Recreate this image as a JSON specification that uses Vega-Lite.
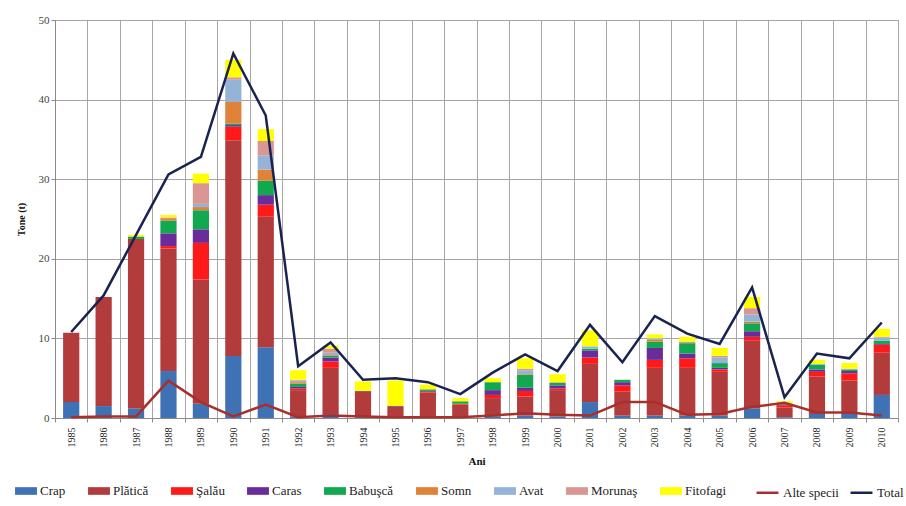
{
  "$schema": "https://vega.github.io/schema/vega-lite/v6.json",
  "autosize": {"type": "none"},
  "width": 843,
  "height": 398,
  "padding": {"left": 55, "top": 20, "right": 8, "bottom": 88},
  "background": "white",
  "config": {
    "font": "Liberation Serif",
    "view": {"stroke": "#9a9a9a", "strokeWidth": 1},
    "axis": {"labelFont": "Liberation Serif", "titleFont": "Liberation Serif", "labelColor": "#222", "titleColor": "#111"},
    "legend": {"labelFont": "Liberation Serif", "labelFontSize": 13, "labelColor": "#222"}
  },
  "datasets": {
    "bars": [
      {"year": "1985", "species": "Crap", "value": 2.0}, {"year": "1985", "species": "Plătică", "value": 8.7},
      {"year": "1986", "species": "Crap", "value": 1.5}, {"year": "1986", "species": "Plătică", "value": 13.7},
      {"year": "1987", "species": "Crap", "value": 1.2}, {"year": "1987", "species": "Plătică", "value": 21.3}, {"year": "1987", "species": "Babuşcă", "value": 0.3}, {"year": "1987", "species": "Fitofagi", "value": 0.2},
      {"year": "1988", "species": "Crap", "value": 5.9}, {"year": "1988", "species": "Plătică", "value": 15.4}, {"year": "1988", "species": "Şalău", "value": 0.3}, {"year": "1988", "species": "Caras", "value": 1.6}, {"year": "1988", "species": "Babuşcă", "value": 1.6}, {"year": "1988", "species": "Somn", "value": 0.2}, {"year": "1988", "species": "Morunaş", "value": 0.2}, {"year": "1988", "species": "Fitofagi", "value": 0.3},
      {"year": "1989", "species": "Crap", "value": 1.8}, {"year": "1989", "species": "Plătică", "value": 15.6}, {"year": "1989", "species": "Şalău", "value": 4.6}, {"year": "1989", "species": "Caras", "value": 1.7}, {"year": "1989", "species": "Babuşcă", "value": 2.4}, {"year": "1989", "species": "Somn", "value": 0.4}, {"year": "1989", "species": "Avat", "value": 0.4}, {"year": "1989", "species": "Morunaş", "value": 2.6}, {"year": "1989", "species": "Fitofagi", "value": 1.2},
      {"year": "1990", "species": "Crap", "value": 7.8}, {"year": "1990", "species": "Plătică", "value": 27.1}, {"year": "1990", "species": "Şalău", "value": 1.7}, {"year": "1990", "species": "Caras", "value": 0.2}, {"year": "1990", "species": "Babuşcă", "value": 0.2}, {"year": "1990", "species": "Somn", "value": 2.7}, {"year": "1990", "species": "Avat", "value": 2.8}, {"year": "1990", "species": "Morunaş", "value": 0.3}, {"year": "1990", "species": "Fitofagi", "value": 2.2},
      {"year": "1991", "species": "Crap", "value": 8.9}, {"year": "1991", "species": "Plătică", "value": 16.4}, {"year": "1991", "species": "Şalău", "value": 1.5}, {"year": "1991", "species": "Caras", "value": 1.2}, {"year": "1991", "species": "Babuşcă", "value": 1.8}, {"year": "1991", "species": "Somn", "value": 1.4}, {"year": "1991", "species": "Avat", "value": 1.8}, {"year": "1991", "species": "Morunaş", "value": 1.8}, {"year": "1991", "species": "Fitofagi", "value": 1.5},
      {"year": "1992", "species": "Crap", "value": 0.2}, {"year": "1992", "species": "Plătică", "value": 3.3}, {"year": "1992", "species": "Şalău", "value": 0.2}, {"year": "1992", "species": "Caras", "value": 0.2}, {"year": "1992", "species": "Babuşcă", "value": 0.4}, {"year": "1992", "species": "Somn", "value": 0.2}, {"year": "1992", "species": "Avat", "value": 0.2}, {"year": "1992", "species": "Morunaş", "value": 0.1}, {"year": "1992", "species": "Fitofagi", "value": 1.2},
      {"year": "1993", "species": "Crap", "value": 0.5}, {"year": "1993", "species": "Plătică", "value": 5.8}, {"year": "1993", "species": "Şalău", "value": 0.8}, {"year": "1993", "species": "Caras", "value": 0.5}, {"year": "1993", "species": "Babuşcă", "value": 0.2}, {"year": "1993", "species": "Somn", "value": 0.1}, {"year": "1993", "species": "Avat", "value": 0.3}, {"year": "1993", "species": "Morunaş", "value": 0.5}, {"year": "1993", "species": "Fitofagi", "value": 0.4},
      {"year": "1994", "species": "Crap", "value": 0.1}, {"year": "1994", "species": "Plătică", "value": 3.2}, {"year": "1994", "species": "Caras", "value": 0.1}, {"year": "1994", "species": "Fitofagi", "value": 1.2},
      {"year": "1995", "species": "Crap", "value": 0.1}, {"year": "1995", "species": "Plătică", "value": 1.3}, {"year": "1995", "species": "Caras", "value": 0.1}, {"year": "1995", "species": "Fitofagi", "value": 3.2},
      {"year": "1996", "species": "Crap", "value": 0.2}, {"year": "1996", "species": "Plătică", "value": 3.0}, {"year": "1996", "species": "Şalău", "value": 0.1}, {"year": "1996", "species": "Caras", "value": 0.1}, {"year": "1996", "species": "Babuşcă", "value": 0.2}, {"year": "1996", "species": "Fitofagi", "value": 0.6},
      {"year": "1997", "species": "Crap", "value": 0.1}, {"year": "1997", "species": "Plătică", "value": 1.6}, {"year": "1997", "species": "Şalău", "value": 0.1}, {"year": "1997", "species": "Babuşcă", "value": 0.3}, {"year": "1997", "species": "Fitofagi", "value": 0.4},
      {"year": "1998", "species": "Crap", "value": 0.2}, {"year": "1998", "species": "Plătică", "value": 2.3}, {"year": "1998", "species": "Şalău", "value": 0.4}, {"year": "1998", "species": "Caras", "value": 0.6}, {"year": "1998", "species": "Babuşcă", "value": 1.0}, {"year": "1998", "species": "Fitofagi", "value": 0.5},
      {"year": "1999", "species": "Crap", "value": 0.3}, {"year": "1999", "species": "Plătică", "value": 2.4}, {"year": "1999", "species": "Şalău", "value": 0.7}, {"year": "1999", "species": "Caras", "value": 0.4}, {"year": "1999", "species": "Babuşcă", "value": 1.6}, {"year": "1999", "species": "Somn", "value": 0.1}, {"year": "1999", "species": "Avat", "value": 0.5}, {"year": "1999", "species": "Morunaş", "value": 0.2}, {"year": "1999", "species": "Fitofagi", "value": 1.3},
      {"year": "2000", "species": "Crap", "value": 0.2}, {"year": "2000", "species": "Plătică", "value": 3.3}, {"year": "2000", "species": "Şalău", "value": 0.2}, {"year": "2000", "species": "Caras", "value": 0.4}, {"year": "2000", "species": "Babuşcă", "value": 0.3}, {"year": "2000", "species": "Morunaş", "value": 0.1}, {"year": "2000", "species": "Fitofagi", "value": 1.0},
      {"year": "2001", "species": "Crap", "value": 2.0}, {"year": "2001", "species": "Plătică", "value": 4.8}, {"year": "2001", "species": "Şalău", "value": 0.8}, {"year": "2001", "species": "Caras", "value": 0.9}, {"year": "2001", "species": "Babuşcă", "value": 0.2}, {"year": "2001", "species": "Avat", "value": 0.3}, {"year": "2001", "species": "Fitofagi", "value": 2.0},
      {"year": "2002", "species": "Crap", "value": 0.3}, {"year": "2002", "species": "Plătică", "value": 3.0}, {"year": "2002", "species": "Şalău", "value": 0.8}, {"year": "2002", "species": "Caras", "value": 0.4}, {"year": "2002", "species": "Babuşcă", "value": 0.3},
      {"year": "2003", "species": "Crap", "value": 0.3}, {"year": "2003", "species": "Plătică", "value": 6.0}, {"year": "2003", "species": "Şalău", "value": 1.0}, {"year": "2003", "species": "Caras", "value": 1.5}, {"year": "2003", "species": "Babuşcă", "value": 0.8}, {"year": "2003", "species": "Somn", "value": 0.2}, {"year": "2003", "species": "Avat", "value": 0.2}, {"year": "2003", "species": "Fitofagi", "value": 0.5},
      {"year": "2004", "species": "Crap", "value": 0.3}, {"year": "2004", "species": "Plătică", "value": 6.0}, {"year": "2004", "species": "Şalău", "value": 1.2}, {"year": "2004", "species": "Caras", "value": 0.6}, {"year": "2004", "species": "Babuşcă", "value": 1.3}, {"year": "2004", "species": "Morunaş", "value": 0.2}, {"year": "2004", "species": "Fitofagi", "value": 0.6},
      {"year": "2005", "species": "Crap", "value": 0.3}, {"year": "2005", "species": "Plătică", "value": 5.5}, {"year": "2005", "species": "Şalău", "value": 0.3}, {"year": "2005", "species": "Caras", "value": 0.2}, {"year": "2005", "species": "Babuşcă", "value": 0.6}, {"year": "2005", "species": "Avat", "value": 0.7}, {"year": "2005", "species": "Morunaş", "value": 0.2}, {"year": "2005", "species": "Fitofagi", "value": 1.0},
      {"year": "2006", "species": "Crap", "value": 1.2}, {"year": "2006", "species": "Plătică", "value": 8.5}, {"year": "2006", "species": "Şalău", "value": 0.5}, {"year": "2006", "species": "Caras", "value": 0.7}, {"year": "2006", "species": "Babuşcă", "value": 1.0}, {"year": "2006", "species": "Somn", "value": 0.2}, {"year": "2006", "species": "Avat", "value": 0.9}, {"year": "2006", "species": "Morunaş", "value": 0.8}, {"year": "2006", "species": "Fitofagi", "value": 1.4},
      {"year": "2007", "species": "Crap", "value": 0.1}, {"year": "2007", "species": "Plătică", "value": 1.2}, {"year": "2007", "species": "Şalău", "value": 0.3}, {"year": "2007", "species": "Caras", "value": 0.1}, {"year": "2007", "species": "Babuşcă", "value": 0.1}, {"year": "2007", "species": "Fitofagi", "value": 0.3},
      {"year": "2008", "species": "Crap", "value": 0.5}, {"year": "2008", "species": "Plătică", "value": 4.7}, {"year": "2008", "species": "Şalău", "value": 0.6}, {"year": "2008", "species": "Caras", "value": 0.3}, {"year": "2008", "species": "Babuşcă", "value": 0.6}, {"year": "2008", "species": "Avat", "value": 0.1}, {"year": "2008", "species": "Fitofagi", "value": 0.5},
      {"year": "2009", "species": "Crap", "value": 0.5}, {"year": "2009", "species": "Plătică", "value": 4.2}, {"year": "2009", "species": "Şalău", "value": 0.9}, {"year": "2009", "species": "Caras", "value": 0.3}, {"year": "2009", "species": "Babuşcă", "value": 0.2}, {"year": "2009", "species": "Avat", "value": 0.1}, {"year": "2009", "species": "Fitofagi", "value": 0.7},
      {"year": "2010", "species": "Crap", "value": 2.9}, {"year": "2010", "species": "Plătică", "value": 5.3}, {"year": "2010", "species": "Şalău", "value": 1.0}, {"year": "2010", "species": "Caras", "value": 0.1}, {"year": "2010", "species": "Babuşcă", "value": 0.4}, {"year": "2010", "species": "Avat", "value": 0.4}, {"year": "2010", "species": "Morunaş", "value": 0.1}, {"year": "2010", "species": "Fitofagi", "value": 1.0}
    ],
    "lines": [
      {"year": "1985", "series": "Alte specii", "value": 0.1}, {"year": "1985", "series": "Total", "value": 10.8},
      {"year": "1986", "series": "Alte specii", "value": 0.2}, {"year": "1986", "series": "Total", "value": 15.4},
      {"year": "1987", "series": "Alte specii", "value": 0.2}, {"year": "1987", "series": "Total", "value": 23.0},
      {"year": "1988", "series": "Alte specii", "value": 4.7}, {"year": "1988", "series": "Total", "value": 30.6},
      {"year": "1989", "series": "Alte specii", "value": 2.0}, {"year": "1989", "series": "Total", "value": 32.8},
      {"year": "1990", "series": "Alte specii", "value": 0.2}, {"year": "1990", "series": "Total", "value": 45.8},
      {"year": "1991", "series": "Alte specii", "value": 1.7}, {"year": "1991", "series": "Total", "value": 38.0},
      {"year": "1992", "series": "Alte specii", "value": 0.1}, {"year": "1992", "series": "Total", "value": 6.5},
      {"year": "1993", "series": "Alte specii", "value": 0.3}, {"year": "1993", "series": "Total", "value": 9.5},
      {"year": "1994", "series": "Alte specii", "value": 0.2}, {"year": "1994", "series": "Total", "value": 4.8},
      {"year": "1995", "series": "Alte specii", "value": 0.1}, {"year": "1995", "series": "Total", "value": 5.0},
      {"year": "1996", "series": "Alte specii", "value": 0.1}, {"year": "1996", "series": "Total", "value": 4.5},
      {"year": "1997", "series": "Alte specii", "value": 0.1}, {"year": "1997", "series": "Total", "value": 3.0},
      {"year": "1998", "series": "Alte specii", "value": 0.3}, {"year": "1998", "series": "Total", "value": 5.7},
      {"year": "1999", "series": "Alte specii", "value": 0.6}, {"year": "1999", "series": "Total", "value": 8.0},
      {"year": "2000", "series": "Alte specii", "value": 0.4}, {"year": "2000", "series": "Total", "value": 5.9},
      {"year": "2001", "series": "Alte specii", "value": 0.3}, {"year": "2001", "series": "Total", "value": 11.7},
      {"year": "2002", "series": "Alte specii", "value": 2.0}, {"year": "2002", "series": "Total", "value": 7.0},
      {"year": "2003", "series": "Alte specii", "value": 2.0}, {"year": "2003", "series": "Total", "value": 12.8},
      {"year": "2004", "series": "Alte specii", "value": 0.4}, {"year": "2004", "series": "Total", "value": 10.6},
      {"year": "2005", "series": "Alte specii", "value": 0.5}, {"year": "2005", "series": "Total", "value": 9.3},
      {"year": "2006", "series": "Alte specii", "value": 1.4}, {"year": "2006", "series": "Total", "value": 16.4},
      {"year": "2007", "series": "Alte specii", "value": 1.9}, {"year": "2007", "series": "Total", "value": 2.6},
      {"year": "2008", "series": "Alte specii", "value": 0.7}, {"year": "2008", "series": "Total", "value": 8.1},
      {"year": "2009", "series": "Alte specii", "value": 0.7}, {"year": "2009", "series": "Total", "value": 7.5},
      {"year": "2010", "series": "Alte specii", "value": 0.3}, {"year": "2010", "series": "Total", "value": 12.0}
    ]
  },
  "encoding": {
    "x": {
      "field": "year", "type": "ordinal",
      "scale": {"paddingInner": 0, "paddingOuter": 0},
      "axis": {
        "title": "Ani", "titleFontSize": 11, "titleFontWeight": "bold", "titlePadding": 8,
        "labelAngle": 270, "labelFontSize": 10, "labelPadding": 5,
        "tickBand": "extent", "grid": true, "gridColor": "#a6a6a6", "gridWidth": 1,
        "domainColor": "#8a8a8a", "tickColor": "#8a8a8a", "tickSize": 4
      }
    }
  },
  "layer": [
    {
      "data": {"name": "bars"},
      "transform": [
        {"calculate": "indexof(['Crap','Plătică','Şalău','Caras','Babuşcă','Somn','Avat','Morunaş','Fitofagi'], datum.species)", "as": "stackRank"}
      ],
      "mark": {"type": "bar", "width": {"band": 0.5}},
      "encoding": {
        "y": {
          "field": "value", "type": "quantitative", "stack": "zero",
          "scale": {"domain": [0, 50]},
          "axis": {
            "title": "Tone (t)", "titleFontSize": 10, "titleFontWeight": "bold", "titlePadding": 12,
            "values": [0, 5, 10, 15, 20, 25, 30, 35, 40, 45, 50],
            "labelFontSize": 11, "labelColor": "#444", "grid": true, "gridColor": "#a6a6a6", "gridWidth": 1,
            "domainColor": "#8a8a8a", "tickColor": "#8a8a8a", "tickSize": 4
          }
        },
        "order": {"field": "stackRank", "type": "quantitative", "sort": "ascending"},
        "fill": {
          "field": "species", "type": "nominal",
          "scale": {
            "domain": ["Crap", "Plătică", "Şalău", "Caras", "Babuşcă", "Somn", "Avat", "Morunaş", "Fitofagi"],
            "range": ["#3f72b5", "#b23b3b", "#ff1a1a", "#6a2c9a", "#12a84f", "#e0823a", "#95b3d7", "#d99694", "#ffff00"]
          },
          "legend": {
            "orient": "none", "legendX": -40, "legendY": 460, "direction": "horizontal", "title": null,
            "symbolType": "M-1,-0.35L1,-0.35L1,0.35L-1,0.35Z", "symbolSize": 480,
            "symbolStrokeWidth": 0, "columnPadding": 22, "labelOffset": 3
          }
        }
      }
    },
    {
      "data": {"name": "lines"},
      "mark": {"type": "line", "strokeWidth": 2.5},
      "encoding": {
        "y": {"field": "value", "type": "quantitative"},
        "stroke": {
          "field": "series", "type": "nominal",
          "scale": {"domain": ["Alte specii", "Total"], "range": ["#a8302c", "#1a2350"]},
          "legend": {
            "orient": "none", "legendX": 700, "legendY": 460, "direction": "horizontal", "title": null,
            "symbolType": "stroke", "symbolSize": 480, "symbolStrokeWidth": 2.5,
            "columnPadding": 6, "labelOffset": 3
          }
        }
      }
    }
  ]
}
